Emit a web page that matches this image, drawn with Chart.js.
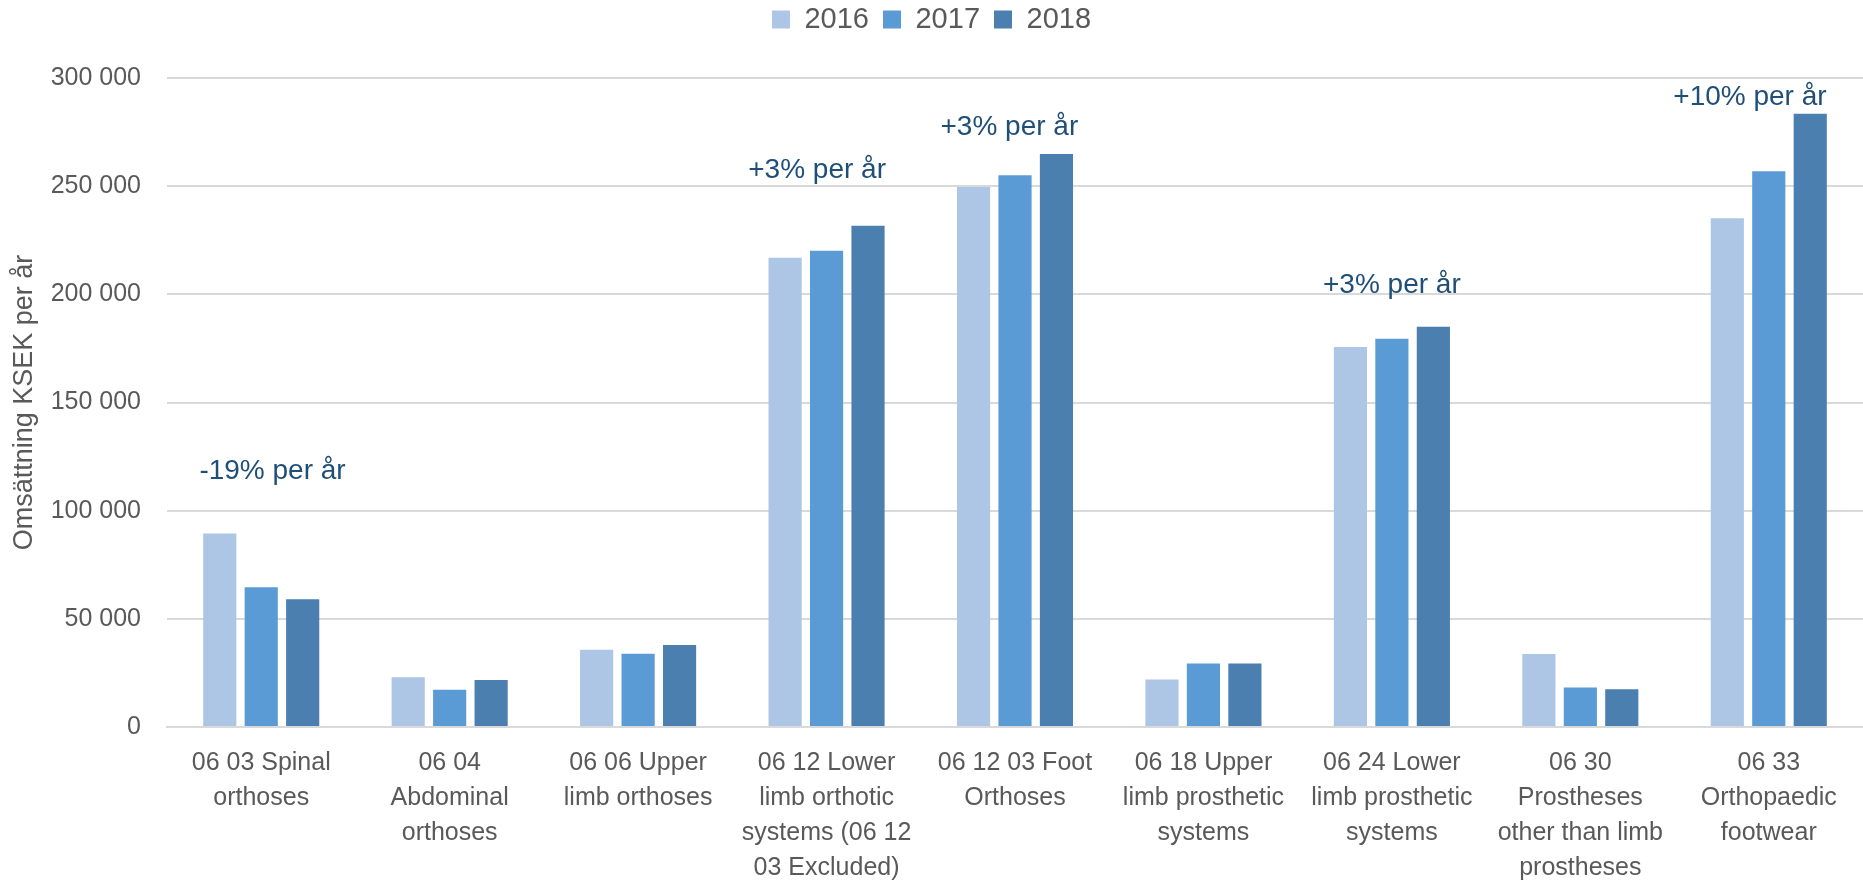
<!DOCTYPE html>
<html>
<head>
<meta charset="utf-8">
<script src="https://cdn.jsdelivr.net/npm/chart.js@4.4.1/dist/chart.umd.min.js"></script>
<style>
  body { margin: 0; background: #fff; }
  #wrap { width: 1863px; height: 880px; }
</style>
</head>
<body>
<div id="wrap"><canvas id="barChart" width="1863" height="880"></canvas></div>
<script>
// categories (already wrapped the way the original does it)
const categories = [
    ['06 03 Spinal', 'orthoses'],
    ['06 04', 'Abdominal', 'orthoses'],
    ['06 06 Upper', 'limb orthoses'],
    ['06 12 Lower', 'limb orthotic', 'systems (06 12', '03 Excluded)'],
    ['06 12 03 Foot', 'Orthoses'],
    ['06 18 Upper', 'limb prosthetic', 'systems'],
    ['06 24 Lower', 'limb prosthetic', 'systems'],
    ['06 30', 'Prostheses', 'other than limb', 'prostheses'],
    ['06 33', 'Orthopaedic', 'footwear']
];

// turnover in KSEK per year
const years = ['2016', '2017', '2018'];
const values2016 = [89500, 23000, 35700, 216900, 249600, 22000, 175700, 33700, 235200];
const values2017 = [64600, 17200, 33900, 220200, 255000, 29300, 179500, 18300, 256900];
const values2018 = [59000, 21700, 37900, 231700, 264900, 29300, 185000, 17400, 283500];
const colors = ['#adc6e5', '#5b9bd5', '#4a7fb0'];

// growth notes over some groups (x = category index, y = value level)
const noteTexts = ['-19% per år', '+3% per år', '+3% per år', '+3% per år', '+10% per år'];
const noteCategory = [0.06, 2.95, 3.97, 6.0, 7.9];
const noteLevel = [118300, 257500, 277400, 204300, 291200];

const yTicks = [0, 50000, 100000, 150000, 200000, 250000, 300000];

const fontFamily = '"Liberation Sans", Arial, sans-serif';
Chart.defaults.font.family = fontFamily;
Chart.defaults.color = '#595959';

// formats 250000 -> "250 000"
const spaced = (v) => String(v).replace(/\B(?=(\d{3})+(?!\d))/g, ' ');

// legend block gets a fixed height so the plot starts where it does in the original
const legendSpace = {
    id: 'legendSpace',
    beforeInit(chart) {
        const fit = chart.legend.fit;
        chart.legend.fit = function () {
            fit.bind(chart.legend)();
            this.height = 87;
        };
    }
};

// draw the growth notes
const growthNotes = {
    id: 'growthNotes',
    afterDatasetsDraw(chart) {
        const ctx = chart.ctx;
        const x = chart.scales.x;
        const y = chart.scales.y;
        ctx.save();
        ctx.font = '28px ' + fontFamily;
        ctx.fillStyle = '#1f4e79';
        ctx.textAlign = 'center';
        ctx.textBaseline = 'middle';
        for (let i = 0; i < noteTexts.length; i++) {
            ctx.fillText(noteTexts[i], x.getPixelForValue(noteCategory[i]), y.getPixelForValue(noteLevel[i]));
        }
        ctx.restore();
    }
};

const ctx = document.getElementById('barChart');

new Chart(ctx, {
    type: 'bar',
    data: {
        labels: categories,
        datasets: [
            { label: years[0], data: values2016, backgroundColor: colors[0] },
            { label: years[1], data: values2017, backgroundColor: colors[1] },
            { label: years[2], data: values2018, backgroundColor: colors[2] }
        ]
    },
    options: {
        responsive: false,
        animation: false,
        devicePixelRatio: 1,
        categoryPercentage: 0.66,
        barPercentage: 0.8,
        layout: { padding: { left: 0, right: 0, top: -9, bottom: 0 } },
        scales: {
            x: {
                afterFit: (scale) => { scale.height = 153; },
                grid: { display: false, drawTicks: false },
                border: { color: '#d9d9d9', width: 2 },
                ticks: {
                    color: '#595959',
                    font: { size: 25, lineHeight: 1.39 },
                    padding: 19,
                    maxRotation: 0,
                    autoSkip: false
                }
            },
            y: {
                min: 0,
                max: 300000,
                afterFit: (scale) => { scale.width = 167; },
                afterBuildTicks: (axis) => { axis.ticks = yTicks.map((v) => ({ value: v })); },
                grid: { color: '#d9d9d9', lineWidth: 2, drawTicks: false },
                border: { display: false },
                ticks: {
                    color: '#595959',
                    font: { size: 25 },
                    padding: 26,
                    callback: (v) => spaced(v)
                },
                title: {
                    display: true,
                    text: 'Omsättning KSEK per år',
                    color: '#595959',
                    font: { size: 27 },
                    padding: { top: 8, bottom: 4 }
                }
            }
        },
        plugins: {
            legend: {
                position: 'top',
                labels: {
                    color: '#595959',
                    font: { size: 29 },
                    boxWidth: 18,
                    boxHeight: 18,
                    padding: 14
                }
            },
            tooltip: { enabled: false }
        }
    },
    plugins: [legendSpace, growthNotes]
});
</script>
</body>
</html>
